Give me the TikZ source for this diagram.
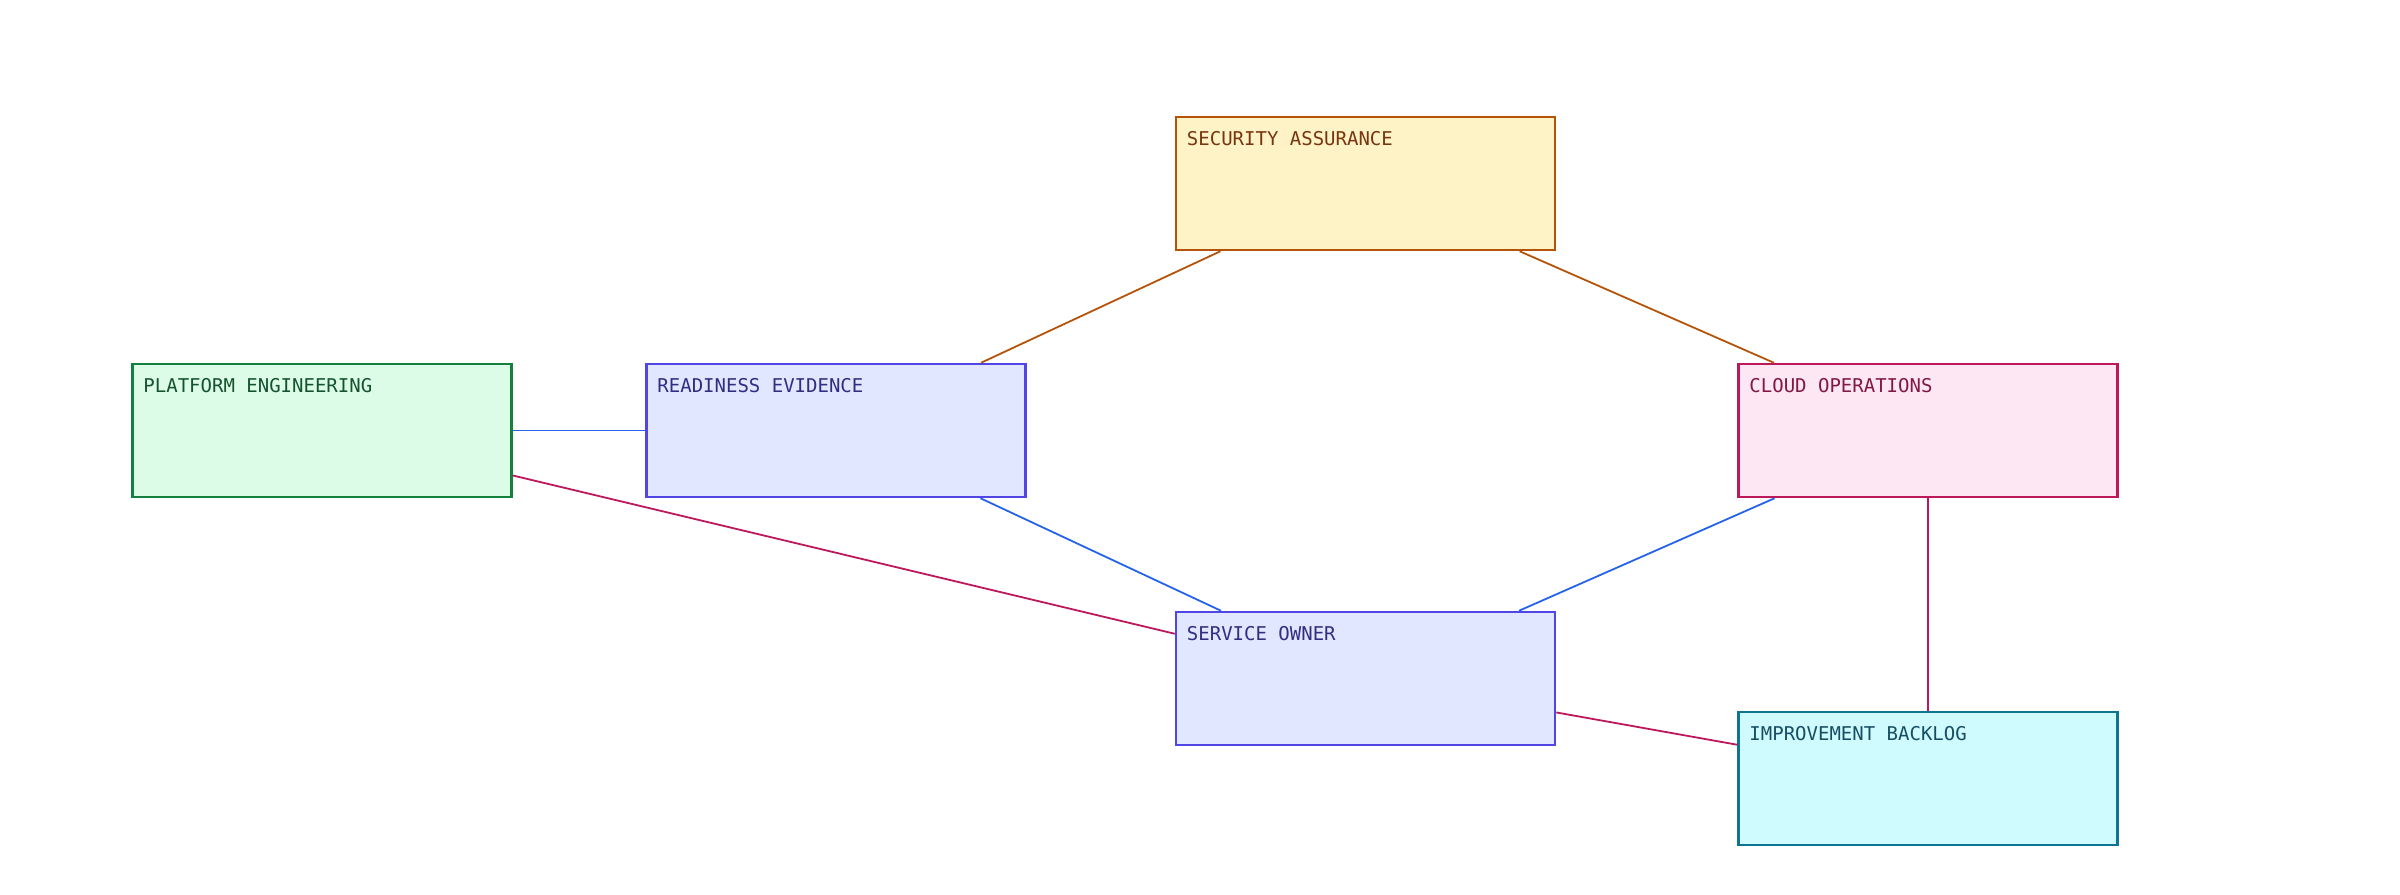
\documentclass[tikz,border=0pt]{standalone}
\usepackage{fontspec}
\setmonofont{DejaVu Sans Mono}
\begin{document}
\begin{tikzpicture}[x=1pt,y=-1pt,
 box/.style={draw,line width=2.5pt,minimum width=379pt,minimum height=133pt,inner sep=0pt},
 lbl/.style={anchor=north west,inner sep=0pt,font=\ttfamily\fontsize{19}{22}\selectfont},
 e/.style={line width=1.8pt}]
\definecolor{oS}{HTML}{B45309}\definecolor{oF}{HTML}{FEF3C7}\definecolor{oT}{HTML}{78350F}
\definecolor{gS}{HTML}{15803D}\definecolor{gF}{HTML}{DCFCE7}\definecolor{gT}{HTML}{14532D}
\definecolor{bS}{HTML}{4F46E5}\definecolor{bF}{HTML}{E0E7FF}\definecolor{bT}{HTML}{312E81}
\definecolor{pS}{HTML}{BE185D}\definecolor{pF}{HTML}{FCE7F3}\definecolor{pT}{HTML}{831843}
\definecolor{cS}{HTML}{0E7490}\definecolor{cF}{HTML}{CFFAFE}\definecolor{cT}{HTML}{164E63}
\definecolor{eB}{HTML}{2563EB}
\useasboundingbox (0,0) rectangle (2400,894);
\node[box,draw=oS,fill=oF] (sec) at (1365.5,183.5) {};
\node[box,draw=gS,fill=gF] (pla) at (322,430.5) {};
\node[box,draw=bS,fill=bF] (rea) at (836,430.5) {};
\node[box,draw=pS,fill=pF] (clo) at (1928,430.5) {};
\node[box,draw=bS,fill=bF] (ser) at (1365.5,678.5) {};
\node[box,draw=cS,fill=cF] (imp) at (1928,778.5) {};
\draw[e,oS] (sec) -- (rea);
\draw[e,oS] (sec) -- (clo);
\draw[e,eB] (pla) -- (rea);
\draw[e,pS] (pla) -- (ser);
\draw[e,eB] (rea) -- (ser);
\draw[e,eB] (clo) -- (ser);
\draw[e,pS] (clo) -- (imp);
\draw[e,pS] (ser) -- (imp);
\node[lbl,text=oT] (t1) at ([shift={(12,15)}]sec.north west) {SECURITY ASSURANCE};
\node[lbl,text=gT] (t2) at ([shift={(12,15)}]pla.north west) {PLATFORM ENGINEERING};
\node[lbl,text=bT] (t3) at ([shift={(12,15)}]rea.north west) {READINESS EVIDENCE};
\node[lbl,text=pT] (t4) at ([shift={(12,15)}]clo.north west) {CLOUD OPERATIONS};
\node[lbl,text=bT] (t5) at ([shift={(12,15)}]ser.north west) {SERVICE OWNER};
\node[lbl,text=cT] (t6) at ([shift={(12,15)}]imp.north west) {IMPROVEMENT BACKLOG};
\end{tikzpicture}
\end{document}
